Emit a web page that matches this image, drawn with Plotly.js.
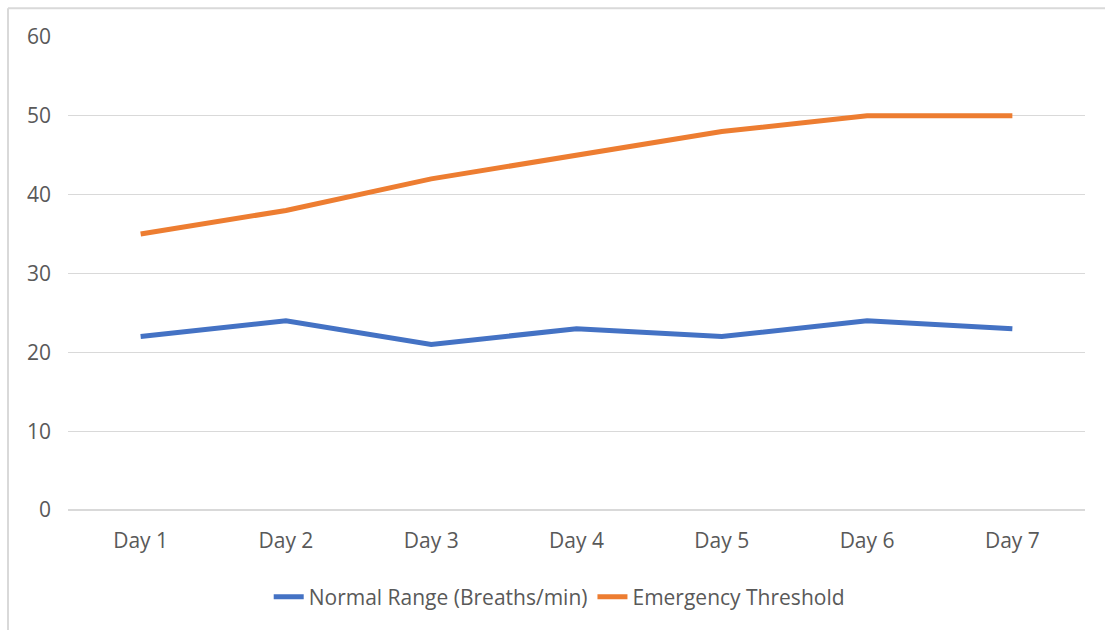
<!DOCTYPE html>
<html>
<head>
<meta charset="utf-8">
<script src="https://cdn.plot.ly/plotly-3.0.1.min.js"></script>
<style>
html, body { margin: 0; padding: 0; background: #ffffff; }
#chart { width: 1105px; height: 630px; }
</style>
</head>
<body>
<div id="chart"></div>
<script>
const days = ["Day 1", "Day 2", "Day 3", "Day 4", "Day 5", "Day 6", "Day 7"];
const normalRange = [22, 24, 21, 23, 22, 24, 23];
const emergencyThreshold = [35, 38, 42, 45, 48, 50, 50];
const seriesNames = ["Normal Range (Breaths/min)", "Emergency Threshold"];

const fontFamily = "'Open Sans', 'Noto Sans', sans-serif";
const textColor = "#595959";
const gridColor = "#d9d9d9";

const traces = [
  {
    x: days, y: normalRange, name: seriesNames[0], type: "scatter", mode: "lines",
    line: { color: "#4472C4", width: 5 }
  },
  {
    x: days, y: emergencyThreshold, name: seriesNames[1], type: "scatter", mode: "lines",
    line: { color: "#ED7D31", width: 5 }
  }
];

const layout = {
  width: 1105, height: 630,
  margin: { l: 68, r: 20, t: 37, b: 120 },
  paper_bgcolor: "#ffffff",
  plot_bgcolor: "#ffffff",
  font: { family: fontFamily, size: 21, color: textColor },
  showlegend: true,
  legend: {
    orientation: "h", x: 0.483, xanchor: "center", y: -0.184, yanchor: "middle",
    font: { family: fontFamily, size: 21, color: textColor },
    itemwidth: 30, tracegroupgap: 0
  },
  xaxis: {
    type: "category", range: [-0.5, 6.5],
    showgrid: false, zeroline: false, showline: false,
    ticks: "", ticklabelstandoff: 16,
    tickfont: { family: fontFamily, size: 21, color: textColor },
    fixedrange: true
  },
  yaxis: {
    range: [0, 60], dtick: 10, tick0: 0,
    showgrid: true, gridcolor: gridColor, gridwidth: 1.3,
    zeroline: true, zerolinecolor: gridColor, zerolinewidth: 1.3,
    showline: false, ticks: "", ticklabelstandoff: 16,
    tickfont: { family: fontFamily, size: 21, color: textColor },
    fixedrange: true
  },
  shapes: [
    { type: "line", xref: "paper", yref: "paper", x0: -0.059, x1: 1.03, y0: 1.061, y1: 1.061,
      line: { color: "#d9d9d9", width: 2 } },
    { type: "line", xref: "paper", yref: "paper", x0: -0.059, x1: -0.059, y0: 1.061, y1: -0.26,
      line: { color: "#d9d9d9", width: 2 } }
  ]
};

Plotly.newPlot("chart", traces, layout, { displayModeBar: false, staticPlot: true });
</script>
</body>
</html>
